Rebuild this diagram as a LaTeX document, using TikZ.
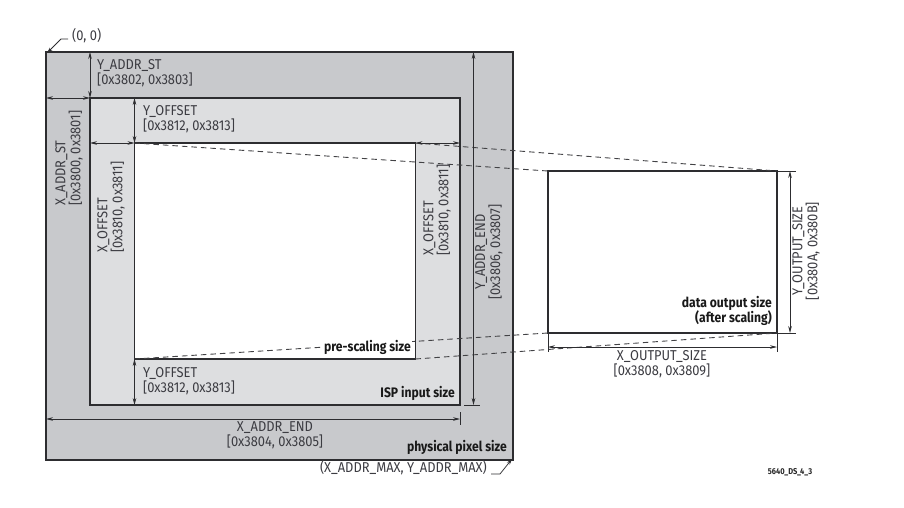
\documentclass[tikz,border=0pt]{standalone}
\usepackage{fontspec}
\setmainfont{Fira Sans}
\newfontfamily\regf{Fira Sans}[FakeStretch=0.9]
\newfontfamily\boldf{Fira Sans}[FakeStretch=0.88]
\usetikzlibrary{arrows.meta}
\definecolor{physgray}{RGB}{200,201,204}
\definecolor{ispgray}{RGB}{221,222,224}
\definecolor{edgec}{RGB}{45,45,48}
\definecolor{txtc}{RGB}{60,60,66}
\begin{document}
\begin{tikzpicture}[x=1pt,y=-1pt,
  box/.style={draw=edgec, line width=1.3pt, inner sep=0pt, outer sep=0pt, anchor=north west},
  dimarr/.style={{Stealth[length=7pt,width=3.6pt]}-{Stealth[length=7pt,width=3.6pt]}, line width=0.75pt, draw=edgec},
  onearr/.style={-{Stealth[length=6pt,width=3.6pt]}, line width=0.75pt, draw=edgec},
  tickline/.style={line width=0.75pt, draw=edgec},
  dashline/.style={line width=0.9pt, draw=edgec!90, dash pattern=on 5.5pt off 4pt},
  lbl/.style={font=\regf\fontsize{14.3}{15}\selectfont, text=txtc, inner sep=0pt, align=left},
  clbl/.style={font=\regf\fontsize{14.3}{15}\selectfont, text=txtc, inner sep=0pt, align=center},
  blbl/.style={font=\boldf\bfseries\fontsize{13.8}{15}\selectfont, text=black!90, inner sep=0pt, align=right}
]
\useasboundingbox (0,0) rectangle (904,507);
% rectangles
\node[box, fill=physgray, minimum width=467pt, minimum height=408pt] (phys) at (46,52) {};
\node[box, fill=ispgray, minimum width=370pt, minimum height=307pt] (isp) at (90,98) {};
\node[box, fill=white, minimum width=281pt, minimum height=216pt] (pre) at (134.5,143) {};
\node[box, fill=white, minimum width=229pt, minimum height=162pt] (outp) at (548,171) {};
% dashed projection lines
\draw[dashline] (pre.north west) -- (outp.north west);
\draw[dashline] (pre.north east) -- (outp.north east);
\draw[dashline] (pre.south west) -- (outp.south west);
\draw[dashline] (pre.south east) -- (outp.south east);
% helper coordinates
\coordinate (yae) at (473.5,0);
\coordinate (xae) at (0,419);
\coordinate (xos) at (0,347);
\coordinate (yos) at (790,0);
% dimension arrows
\draw[dimarr] (isp.north west |- phys.north) -- (isp.north west);
\draw[dimarr] (phys.west |- isp.north) -- (isp.north west);
\draw[dimarr] (pre.north west |- isp.north) -- (pre.north west);
\draw[dimarr] (isp.west |- pre.north) -- (pre.north west);
\draw[dimarr] (pre.north east) -- (isp.east |- pre.north);
\draw[dimarr] (pre.south west) -- (pre.south west |- isp.south);
\draw[dimarr] (yae |- phys.north) -- (yae |- isp.south);
\draw[tickline] ([xshift=4pt]isp.south east) -- ([xshift=6pt]yae |- isp.south);
\draw[dimarr] (phys.west |- xae) -- (isp.east |- xae);
\draw[tickline] ([yshift=-7pt]isp.south east) -- ([yshift=-20pt]isp.south east);
\draw[dimarr] (outp.south west |- xos) -- (outp.south east |- xos);
\draw[tickline] (outp.south west) -- ([yshift=-19pt]outp.south west);
\draw[tickline] (outp.south east) -- ([yshift=-19pt]outp.south east);
\draw[dimarr] (yos |- outp.north) -- (yos |- outp.south);
\draw[tickline] (outp.north east) -- ([xshift=19pt]outp.north east);
\draw[tickline] (outp.south east) -- ([xshift=19pt]outp.south east);
% text labels
\node[lbl, anchor=west] (yaddrst) at (97,73) {Y\_ADDR\_ST\\{[}0x3802, 0x3803]};
\node[lbl, anchor=west] (yofft) at (143,119) {Y\_OFFSET\\{[}0x3812, 0x3813]};
\node[lbl, anchor=west] (yoffb) at (143,381) {Y\_OFFSET\\{[}0x3812, 0x3813]};
\node[lbl, rotate=90, anchor=west] (xaddrst) at (69,206) {X\_ADDR\_ST\\{[}0x3800, 0x3801]};
\node[lbl, rotate=90, anchor=west] (xoffl) at (111,253) {X\_OFFSET\\{[}0x3810, 0x3811]};
\node[lbl, rotate=90, anchor=west] (xoffr) at (437,256) {X\_OFFSET\\{[}0x3810, 0x3811]};
\node[clbl, rotate=90] (yaddrend) at (489,252) {Y\_ADDR\_END\\{[}0x3806, 0x3807]};
\node[clbl, rotate=90] (youts) at (806,251) {Y\_OUTPUT\_SIZE\\{[}0x380A, 0x380B]};
\node[clbl] (xaddrend) at (275,435.5) {X\_ADDR\_END\\{[}0x3804, 0x3805]};
\node[clbl] (xouts) at (662,364) {X\_OUTPUT\_SIZE\\{[}0x3808, 0x3809]};
% bold area names
\node[blbl, anchor=base east] (physlbl) at (507,451) {physical pixel size};
\node[blbl, anchor=base east] (isplbl) at (455,397) {ISP input size};
\node[blbl, anchor=base east, fill=white, inner sep=1pt] (prelbl) at (412,351) {pre-scaling size};
\node[blbl, anchor=base east] (outlbl1) at (772,307) {data output size};
\node[blbl, anchor=base east] (outlbl2) at (772,322) {(after scaling)};
\node[font=\boldf\bfseries\fontsize{8.5}{10}\selectfont, text=black!85, inner sep=0pt] (fig) at (790,472) {5640\_DS\_4\_3};
% corner labels
\node[lbl, anchor=west] (orig) at (72,36) {(0, 0)};
\coordinate (origs) at (68,39);
\coordinate (origk) at (61,39);
\draw[onearr] (origs) -- (origk) -- ([xshift=1pt,yshift=-1pt]phys.north west);
\node[lbl, anchor=east] (maxl) at (487,468) {(X\_ADDR\_MAX, Y\_ADDR\_MAX)};
\coordinate (maxs) at (491,474);
\coordinate (maxk) at (500,474);
\draw[onearr] (maxs) -- (maxk) -- ([xshift=-1pt,yshift=1pt]phys.south east);
\end{tikzpicture}
\end{document}
